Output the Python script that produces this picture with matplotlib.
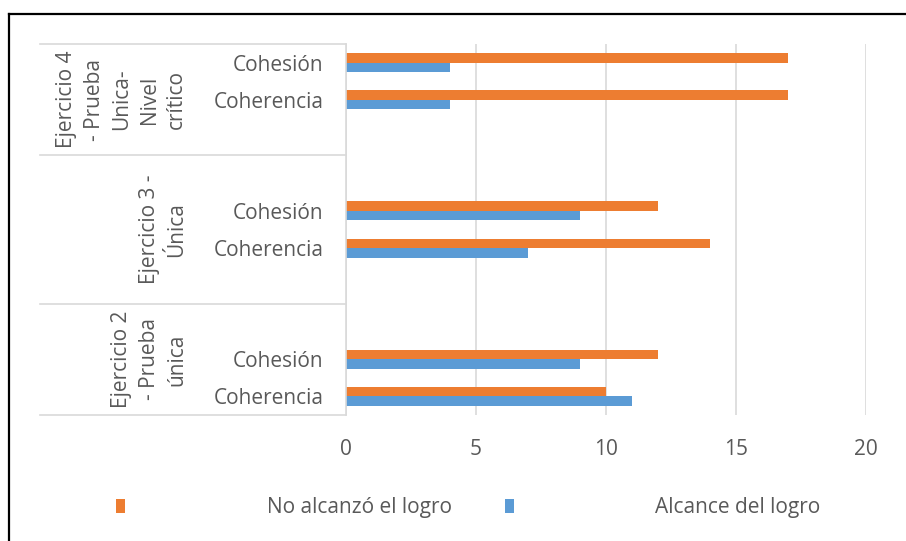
import numpy as np
import matplotlib
matplotlib.use("Agg")
import matplotlib.pyplot as plt
from matplotlib.lines import Line2D
from matplotlib.patches import Patch
from matplotlib.transforms import blended_transform_factory

plt.rcParams['font.family'] = ['Open Sans', 'DejaVu Sans']

# category rows, bottom to top (Excel sheet had blank rows between exercises)
groups = ["Ejercicio 2\n- Prueba\núnica",
          "Ejercicio 3 -\nÚnica",
          "Ejercicio 4\n- Prueba\nUnica-\nNivel\ncrítico"]
group_of_row = [0, 0, 0, 1, 1, 1, 1, 2, 2, 2]
row_labels = ["Coherencia", "Cohesión", "", "", "Coherencia", "Cohesión", "", "", "Coherencia", "Cohesión"]
no_alcanzo = [10, 12, np.nan, np.nan, 14, 12, np.nan, np.nan, 17, 17]
alcance = [11, 9, np.nan, np.nan, 7, 9, np.nan, np.nan, 4, 4]
series_names = ["No alcanzó el logro", "Alcance del logro"]

ORANGE = "#ED7D31"
BLUE = "#5B9BD5"
GREY_TXT = "#595959"
GRID = "#D9D9D9"
FS = 15

W, H = 906, 541
fig = plt.figure(figsize=(W / 100, H / 100), dpi=100)
ax = fig.add_axes([346 / W, 1 - 415 / H, (866 - 346) / W, (415 - 44) / H])

y = np.arange(len(row_labels))
bh = 0.256
ax.barh(y + bh / 2, no_alcanzo, height=bh, color=ORANGE, label=series_names[0])
ax.barh(y - bh / 2, alcance, height=bh, color=BLUE, label=series_names[1])

ax.set_xlim(0, 20)
ax.set_ylim(-0.5, len(row_labels) - 0.5)
ax.set_xticks([0, 5, 10, 15, 20])
ax.set_yticks(y)
ax.set_yticklabels(row_labels)
ax.tick_params(axis='y', length=0, pad=16, labelsize=FS, labelcolor=GREY_TXT)
ax.tick_params(axis='x', length=0, pad=17, labelsize=FS, labelcolor=GREY_TXT)
ax.grid(axis='x', color=GRID, linewidth=1.2)
ax.set_axisbelow(True)
for s in ["top", "right", "bottom"]:
    ax.spines[s].set_visible(False)
ax.spines["left"].set_color(GRID)
ax.spines["left"].set_linewidth(1.2)

# multi-level category box on the left
tr = blended_transform_factory(fig.transFigure, ax.transData)
bounds = [-0.5]
for i in range(1, len(group_of_row)):
    if group_of_row[i] != group_of_row[i - 1]:
        bounds.append(i - 0.5)
bounds.append(len(group_of_row) - 0.5)
for b in bounds:
    ax.add_line(Line2D([40 / W, 346 / W], [b, b], transform=tr, color=GRID,
                       linewidth=1.2, clip_on=False))
for g, name in enumerate(groups):
    yc = (bounds[g] + bounds[g + 1]) / 2
    ax.text(187 / W, yc, name, transform=tr, rotation=90, ha='right', va='center',
            multialignment='center', fontsize=FS, color=GREY_TXT, linespacing=1.4)

# outer frame (top and left only visible)
fig.add_artist(Line2D([9 / W, 1], [1 - 14 / H, 1 - 14 / H], color='black', linewidth=1.6))
fig.add_artist(Line2D([9 / W, 9 / W], [0, 1 - 14 / H], color='black', linewidth=1.6))

handles = [Patch(facecolor=ORANGE), Patch(facecolor=BLUE)]
fig.legend(handles, series_names, loc='center left', bbox_to_anchor=(116 / W, 1 - 508 / H),
           ncol=2, frameon=False, fontsize=FS, labelcolor=GREY_TXT,
           handlelength=0.43, handleheight=0.63, handletextpad=6.8, columnspacing=2.55,
           borderpad=0, borderaxespad=0)

fig.savefig("out.png", dpi=100)
